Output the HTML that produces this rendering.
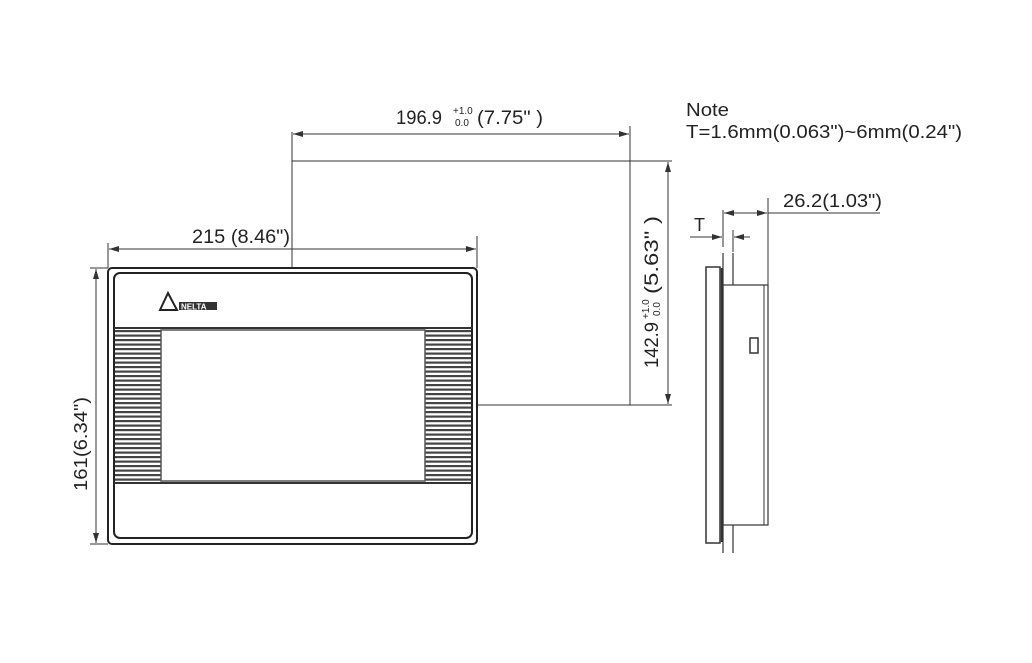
<!DOCTYPE html>
<html><head><meta charset="utf-8"><style>
html,body{margin:0;padding:0;background:#fff}
svg{display:block}
text{font-family:"Liberation Sans",sans-serif;fill:#222}
</style></head><body>
<svg width="1032" height="663" viewBox="0 0 1032 663" xmlns="http://www.w3.org/2000/svg">
<defs>
<pattern id="st" width="10" height="4.5" patternUnits="userSpaceOnUse" y="330">
<rect width="10" height="2.2" fill="#444"/>
</pattern>
<marker id="a" viewBox="0 0 10 6" refX="10" refY="3" markerWidth="10" markerHeight="6" orient="auto-start-reverse" markerUnits="userSpaceOnUse"><path d="M0,0L10,3L0,6z" fill="#333"/></marker>
</defs>
<g stroke="#333" fill="none" stroke-width="1">
<path d="M292,132V268 M292,161H630V405H477"/>
<line x1="630" y1="126" x2="630" y2="161"/>
<line x1="293" y1="134" x2="629" y2="134" marker-start="url(#a)" marker-end="url(#a)"/>
<path d="M630,161H672 M630,405H672"/>
<line x1="668" y1="162" x2="668" y2="404" marker-start="url(#a)" marker-end="url(#a)"/>
<path d="M108,243V268 M477,236V268"/>
<line x1="109" y1="249" x2="476" y2="249" marker-start="url(#a)" marker-end="url(#a)"/>
<path d="M90,268H108 M90,544H108"/>
<line x1="96" y1="269" x2="96" y2="543" marker-start="url(#a)" marker-end="url(#a)"/>
</g>
<rect x="108" y="268" width="369" height="276" rx="4" fill="none" stroke="#222" stroke-width="2"/>
<rect x="114" y="273" width="358" height="265" rx="6" fill="none" stroke="#222" stroke-width="2"/>
<rect x="115" y="328" width="46" height="155" fill="url(#st)"/>
<rect x="425" y="328" width="46" height="155" fill="url(#st)"/>
<line x1="114" y1="328" x2="472" y2="328" stroke="#333" stroke-width="2"/>
<line x1="114" y1="483" x2="472" y2="483" stroke="#333" stroke-width="2"/>
<rect x="161" y="330" width="264" height="151" fill="#fff" stroke="#555" stroke-width="1.5"/>
<path d="M160,310L168,293L177,310Z" fill="none" stroke="#222" stroke-width="2"/>
<rect x="179" y="302" width="38" height="8" fill="#333"/>
<text x="181" y="309.5" font-size="8" style="fill:#fff;font-weight:bold">NELTA</text>
<g stroke="#333" fill="none">
<rect x="706" y="267" width="14" height="276" stroke-width="1.5"/>
<line x1="722" y1="268" x2="722" y2="542" stroke-width="2.5"/>
<path d="M723,253V553 M733,253V285 M733,525V553" stroke-width="1.2"/>
<rect x="723" y="285" width="45" height="240" stroke-width="1.2"/>
<line x1="764" y1="285" x2="764" y2="525"/>
<rect x="750" y="338" width="8" height="15" stroke-width="1.5"/>
<path d="M723,210V247 M768,198V285 M768,213H880"/>
<line x1="724" y1="213" x2="767" y2="213" marker-start="url(#a)" marker-end="url(#a)"/>
<line x1="690" y1="237" x2="722" y2="237" marker-end="url(#a)"/>
<line x1="750" y1="237" x2="734" y2="237" marker-end="url(#a)"/>
<path d="M733,230V252"/>
</g>
<text x="396" y="124" font-size="19" textLength="46" lengthAdjust="spacingAndGlyphs">196.9</text>
<text x="453" y="114" font-size="10">+1.0</text>
<text x="455" y="126" font-size="10">0.0</text>
<text x="477" y="124" font-size="19" textLength="66" lengthAdjust="spacingAndGlyphs">(7.75" )</text>
<text x="192" y="243" font-size="19" textLength="98" lengthAdjust="spacingAndGlyphs">215 (8.46")</text>
<text transform="translate(87,444) rotate(-90)" text-anchor="middle" font-size="18" textLength="94" lengthAdjust="spacingAndGlyphs">161(6.34")</text>
<g transform="translate(658,290) rotate(-90)">
<text x="-78" y="0" font-size="19" textLength="46" lengthAdjust="spacingAndGlyphs">142.9</text>
<text x="-29" y="-9" font-size="10">+1.0</text>
<text x="-26" y="2" font-size="10">0.0</text>
<text x="-4" y="0" font-size="19" textLength="78" lengthAdjust="spacingAndGlyphs">(5.63" )</text>
</g>
<text x="686" y="116" font-size="18" textLength="43" lengthAdjust="spacingAndGlyphs">Note</text>
<text x="686" y="138" font-size="18" textLength="276" lengthAdjust="spacingAndGlyphs">T=1.6mm(0.063")~6mm(0.24")</text>
<text x="783" y="207" font-size="18" textLength="99" lengthAdjust="spacingAndGlyphs">26.2(1.03")</text>
<text x="694" y="231" font-size="18">T</text>
</svg>
</body></html>
